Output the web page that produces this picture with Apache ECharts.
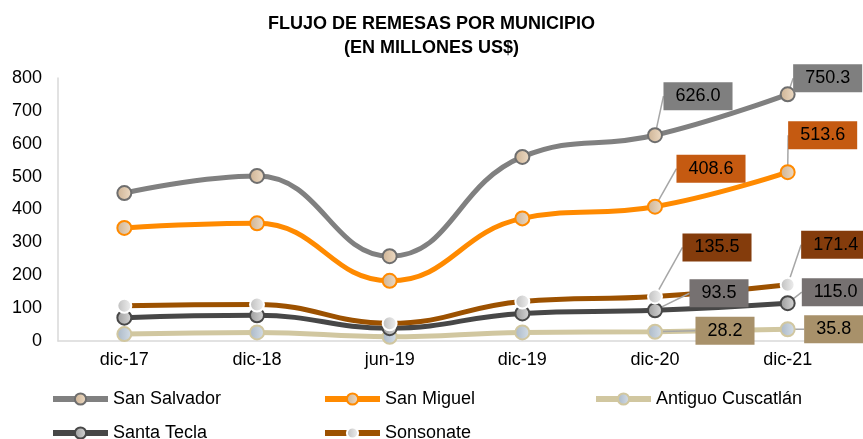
<!DOCTYPE html>
<html>
<head>
<meta charset="utf-8">
<script src="https://cdn.jsdelivr.net/npm/echarts@6/dist/echarts.min.js"></script>
<style>
  html, body { margin: 0; padding: 0; background: #fff; }
  #chart { width: 863px; height: 439px; }
</style>
</head>
<body>
<div id="chart"></div>
<script>
// datos
const categorias = ["dic-17", "dic-18", "jun-19", "dic-19", "dic-20", "dic-21"];
const sanSalvador = [450, 502, 258, 560, 626.0, 750.3];
const sanMiguel = [344, 358, 183, 373, 408.6, 513.6];
const antiguoCuscatlan = [21, 26, 13, 26, 28.2, 35.8];
const santaTecla = [71, 78, 39, 84, 93.5, 115.0];
const sonsonate = [107, 111, 54, 120, 135.5, 171.4];
const ticksY = { min: 0, max: 800, interval: 100 };

// desplazamiento de las etiquetas (centro de la caja respecto al punto)
const desplazamientos = [
  { 4: [43, -39], 5: [40, -16] },
  { 4: [56, -38], 5: [35, -37] },
  { 4: [70, -1], 5: [46, 0] },
  { 4: [64, -17], 5: [48, -11] },
  { 4: [62, -49], 5: [48, -40] }
];

const fuente = "Liberation Sans, Arial, sans-serif";

const grad = (a, b) => new echarts.graphic.LinearGradient(0, 0, 1, 0, [
  { offset: 0, color: a },
  { offset: 1, color: b }
]);

const serie = (nombre, valores, idx, linea, m1, m2, borde, fondo) => ({
  name: nombre,
  type: "line",
  smooth: 0.45,
  symbol: "circle",
  symbolSize: 14,
  lineStyle: { color: linea, width: 5 },
  itemStyle: { color: grad(m1, m2), borderColor: borde, borderWidth: 2 },
  data: valores.map((v, i) => i >= 4 ? { value: v, label: { show: true } } : v),
  label: {
    show: false,
    formatter: (p) => p.value.toFixed(1),
    backgroundColor: fondo,
    color: "#000",
    fontSize: 18,
    fontFamily: fuente,
    padding: [5, 12]
  },
  labelLine: { show: true, lineStyle: { color: "#A6A6A6", width: 1.5 } },
  labelLayout: (p) => {
    const o = desplazamientos[idx][p.dataIndex];
    if (!o) return {};
    return {
      x: p.rect.x + p.rect.width / 2 + o[0],
      y: p.rect.y + p.rect.height / 2 + o[1],
      align: "center",
      verticalAlign: "middle"
    };
  },
  emphasis: { disabled: true }
});

const chart = echarts.init(document.getElementById("chart"));
const leyenda = (nombre, left, top) => ({
  data: [nombre],
  left: left,
  top: top,
  itemWidth: 55,
  itemHeight: 14,
  itemGap: 4,
  lineStyle: { width: 6 },
  textStyle: { fontSize: 18, color: "#000", fontFamily: fuente },
  selectedMode: false
});

chart.setOption({
  animation: false,
  title: {
    text: "FLUJO DE REMESAS POR MUNICIPIO\n(EN MILLONES US$)",
    left: "center",
    top: 7,
    textStyle: { fontSize: 18, fontWeight: "bold", color: "#000", fontFamily: fuente, lineHeight: 24 }
  },
  legend: [
    leyenda("San Salvador", 45, 385),
    leyenda("San Miguel", 317, 385),
    leyenda("Antiguo Cuscatlán", 588, 385),
    leyenda("Santa Tecla", 45, 419),
    leyenda("Sonsonate", 317, 419)
  ],
  grid: { left: 58, right: 9, top: 78, bottom: 98 },
  xAxis: {
    type: "category",
    data: categorias,
    boundaryGap: true,
    axisLine: { lineStyle: { color: "#D9D9D9", width: 1.5 } },
    axisTick: { show: false },
    axisLabel: { fontSize: 18, color: "#000", fontFamily: fuente, margin: 10 }
  },
  yAxis: {
    type: "value",
    min: ticksY.min,
    max: ticksY.max,
    interval: ticksY.interval,
    axisLine: { show: true, lineStyle: { color: "#D9D9D9", width: 1.5 } },
    axisTick: { show: false },
    splitLine: { show: false },
    axisLabel: { fontSize: 18, color: "#000", fontFamily: fuente, margin: 16 }
  },
  series: [
    serie("San Salvador", sanSalvador, 0, "#808080", "#CDB293", "#EEDCC6", "#6E6E6E", "#7F7F7F"),
    serie("San Miguel", sanMiguel, 1, "#FF8A00", "#CDB293", "#EEDCC6", "#FF8A00", "#C55A11"),
    serie("Antiguo Cuscatlán", antiguoCuscatlan, 2, "#D1C7A0", "#A9B7C6", "#D6DFE8", "#D1C7A0", "#A8916A"),
    serie("Santa Tecla", santaTecla, 3, "#474747", "#9A9A9A", "#D8D8D8", "#474747", "#767171"),
    serie("Sonsonate", sonsonate, 4, "#9C5100", "#BDBDBD", "#F2F2F2", "#FFFFFF", "#843C0C")
  ]
});
</script>
</body>
</html>
